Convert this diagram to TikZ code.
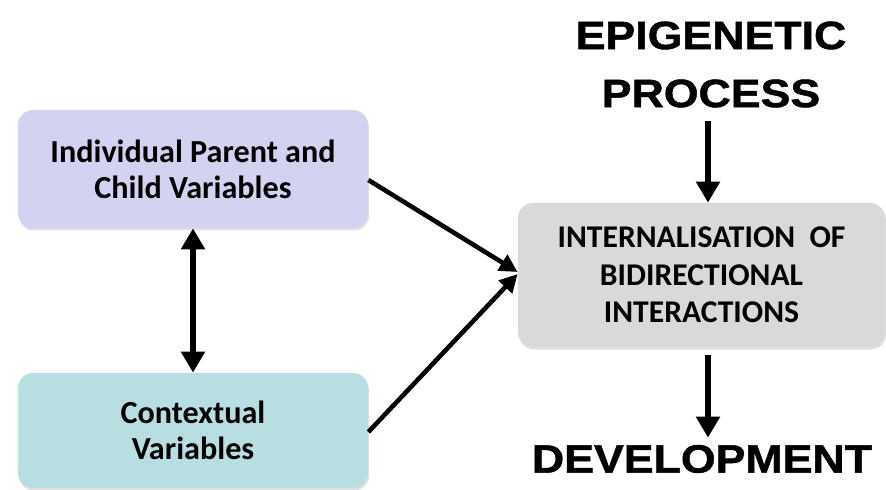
\documentclass[tikz,border=0pt]{standalone}
\usepackage{fontspec}
\setmainfont{Carlito}
\newfontfamily\headfont[FakeStretch=1.13,FakeBold=1.2]{Liberation Sans Bold}
\usetikzlibrary{arrows.meta,shadows}

\definecolor{lavbox}{RGB}{211,211,241}
\definecolor{tealbox}{RGB}{184,222,226}
\definecolor{greybox}{RGB}{217,217,217}

\begin{document}
\begin{tikzpicture}
\tikzstyle{box} = [rounded corners=0.3cm, minimum width=7cm, minimum height=2.36cm, align=center, inner sep=0, font=\bfseries\fontsize{18.3}{20.5}\selectfont, drop shadow={shadow xshift=0.02cm, shadow yshift=-0.05cm, opacity=0.25}]
\tikzstyle{head} = [align=center, inner sep=0, font=\headfont\fontsize{22.5}{33}\selectfont]
\tikzstyle{fat} = [line width=3.4pt, -{Triangle[length=0.42cm, width=0.46cm]}]
\tikzstyle{thin} = [line width=2.6pt, -{Triangle[length=0.36cm, width=0.36cm]}]

\useasboundingbox (0,0) rectangle (17.72,9.78);

% Riquadri
\node[box, fill=lavbox] (indiv) at (3.86,6.40) {Individual Parent and\\Child Variables};
\node[box, fill=tealbox, minimum height=2.3cm] (context) at (3.86,1.17) {Contextual\\Variables};
\node[box, fill=greybox, minimum width=7.34cm, minimum height=2.88cm, font=\bfseries\fontsize{18}{21.3}\selectfont] (intern) at (14.03,4.28) {INTERNALISATION~~OF\\BIDIRECTIONAL\\INTERACTIONS};

% Titoli
\node[head] (epi) at (14.22,8.49) {EPIGENETIC\\PROCESS};
\node[head] (dev) at (14.04,0.60) {DEVELOPMENT};

% Frecce
\draw[fat, {Triangle[length=0.42cm, width=0.46cm]}-{Triangle[length=0.42cm, width=0.46cm]}] (indiv.south) -- (context.north);
\draw[thin] ([yshift=-0.22cm]indiv.east) -- ([yshift=0.06cm]intern.west);
\draw[thin] ([yshift=-0.03cm]context.east) -- ([yshift=0.02cm]intern.west);
\draw[fat] ([xshift=-0.06cm, yshift=-0.26cm]epi.south) -- ([xshift=-0.06cm]epi.south |- intern.north);
\draw[fat] ([xshift=0.13cm, yshift=-0.16cm]intern.south) -- ([xshift=0.13cm, yshift=0.14cm]intern.south |- dev.north);

\end{tikzpicture}
\end{document}
